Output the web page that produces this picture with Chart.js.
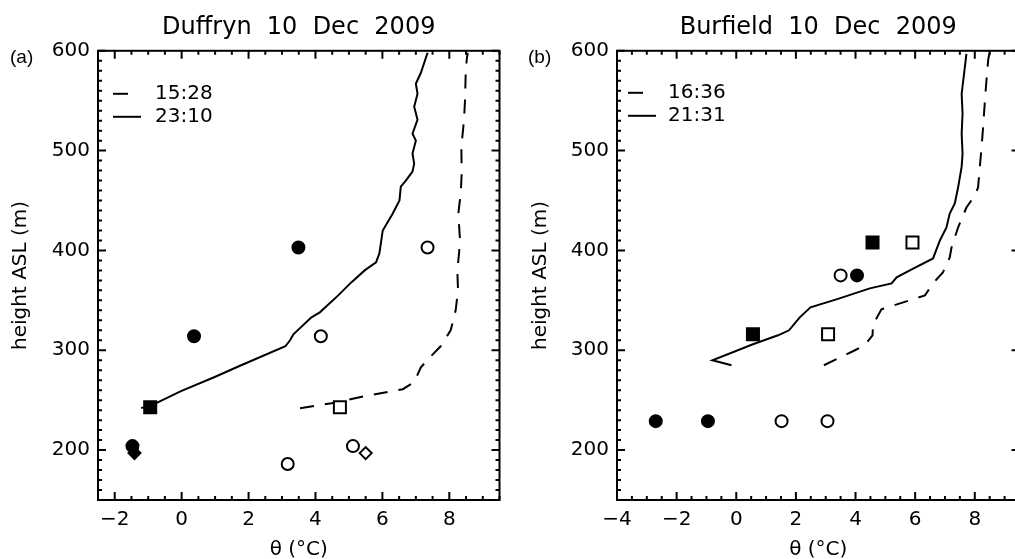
<!DOCTYPE html>
<html>
<head>
<meta charset="utf-8">
<title>Potential temperature profiles</title>
<script src="https://cdn.jsdelivr.net/npm/chart.js@4.4.0/dist/chart.umd.min.js"></script>
<style>
    html, body { margin: 0; padding: 0; background: #fff; overflow: hidden; }
    #wrap { position: relative; width: 1015px; height: 559px; overflow: hidden; }
    canvas { position: absolute; top: 0; }
    #panelA { left: 0; }
    #panelB { left: 505px; }
</style>
</head>
<body>
<div id="wrap">
    <canvas id="panelA" width="510" height="559"></canvas>
    <canvas id="panelB" width="525" height="559"></canvas>
</div>
<script>
// ---- tick labels ----
const xTicksA = [-2, 0, 2, 4, 6, 8];
const xTicksB = [-4, -2, 0, 2, 4, 6, 8];
const yTicks = [200, 300, 400, 500, 600];

// ---- (a) Duffryn: profile 15:28 (dashed) ----
const aEarlyTheta  = [3.54, 4.48, 5.47, 6.61, 6.95, 7.15, 7.45, 7.74, 8.04, 8.19, 8.26, 8.24, 8.29, 8.32, 8.27, 8.34, 8.37, 8.36, 8.44, 8.47, 8.49, 8.52, 8.55];
const aEarlyHeight = [242, 247, 254, 261, 268, 283, 294, 304, 320, 340, 360, 380, 397, 410, 437, 457, 477, 504, 531, 551, 578, 591, 598];

// ---- (a) Duffryn: profile 23:10 (solid) ----
const aLateTheta  = [-1.21, -0.76, -0.02, 0.97, 1.71, 3.10, 3.24, 3.34, 3.88, 4.13, 4.68, 5.07, 5.47, 5.81, 5.91, 6.01, 6.31, 6.51, 6.55, 6.70, 6.90, 6.95, 6.90, 7.00, 6.90, 7.05, 6.95, 7.05, 7.00, 7.15, 7.35];
const aLateHeight = [242, 247, 259, 273, 284, 304, 310, 316, 333, 338, 355, 368, 380, 388, 397, 420, 437, 450, 464, 470, 479, 487, 497, 510, 517, 531, 544, 557, 567, 578, 598];

// ---- (a) station markers ----
const aFilledCircles = [[3.49, 403], [0.37, 314], [-1.47, 204]];
const aOpenCircles   = [[7.35, 403], [4.16, 314], [5.12, 204], [3.17, 186]];
const aFilledSquares = [[-0.94, 243]];
const aOpenSquares   = [[4.73, 243]];
const aFilledDiamonds = [[-1.41, 197]];
const aOpenDiamonds   = [[5.50, 197]];

// ---- (b) Burfield: profile 16:36 (dashed) ----
const bEarlyTheta  = [2.94, 3.98, 4.31, 4.57, 4.59, 4.87, 6.33, 6.60, 6.93, 7.16, 7.22, 7.44, 7.72, 8.00, 8.11, 8.17, 8.23, 8.28, 8.34, 8.39, 8.45, 8.51];
const bEarlyHeight = [285, 300, 305, 315, 326, 341, 355, 367, 378, 393, 403, 423, 443, 455, 463, 484, 504, 524, 550, 570, 591, 600];

// ---- (b) Burfield: profile 21:31 (solid) ----
const bLateTheta  = [-0.16, -0.80, 0.56, 1.40, 1.77, 2.13, 2.49, 3.36, 4.48, 5.21, 5.38, 5.82, 6.60, 6.83, 7.05, 7.16, 7.33, 7.44, 7.56, 7.59, 7.56, 7.59, 7.56, 7.64, 7.72];
const bLateHeight = [285, 290, 306, 315, 320, 333, 343, 351, 362, 367, 373, 380, 392, 410, 423, 437, 447, 463, 484, 497, 517, 537, 557, 577, 597];

// ---- (b) station markers ----
const bFilledCircles = [[-2.70, 229], [-0.95, 229], [4.05, 375]];
const bOpenCircles   = [[1.52, 229], [3.06, 229], [3.50, 375]];
const bFilledSquares = [[0.56, 316], [4.57, 408]];
const bOpenSquares   = [[3.08, 316], [5.91, 408]];

const FONT = 'DejaVu Sans';
const DASH = [14, 11];

// Helpers to build datasets
function profile(label, theta, height, dashed) {
    return {
        label: label,
        data: theta.map((t, i) => ({ x: t, y: height[i] })),
        showLine: true,
        borderColor: '#000',
        borderWidth: 2,
        borderDash: dashed ? DASH : [],
        pointRadius: 0,
        tension: 0,
        fill: false,
        isProfile: true
    };
}

function markers(points, style, filled, radius) {
    return {
        data: points.map(p => ({ x: p[0], y: p[1] })),
        pointStyle: style,
        pointRadius: radius,
        backgroundColor: filled ? '#000' : '#fff',
        borderColor: '#000',
        borderWidth: 2,
        showLine: false
    };
}

const minusLabel = v => (v < 0 ? '\u2212' + Math.abs(v) : String(v));

// Box with inward major/minor ticks on all four sides
const frameTicks = {
    id: 'frameTicks',
    afterDatasetsDraw(chart, args, opts) {
        const { ctx, chartArea: a, scales: { x, y } } = chart;
        ctx.save();
        ctx.strokeStyle = '#000';
        ctx.lineWidth = 2;
        ctx.beginPath();
        for (let v = x.min; v <= x.max + 1e-6; v += opts.xMinor) {
            const px = x.getPixelForValue(v);
            const major = Math.abs(v / opts.xMajor - Math.round(v / opts.xMajor)) < 1e-6;
            const len = major ? 8 : 4;
            ctx.moveTo(px, a.bottom); ctx.lineTo(px, a.bottom - len);
            ctx.moveTo(px, a.top); ctx.lineTo(px, a.top + len);
        }
        for (let v = y.min; v <= y.max + 1e-6; v += opts.yMinor) {
            const py = y.getPixelForValue(v);
            const major = Math.abs(v / opts.yMajor - Math.round(v / opts.yMajor)) < 1e-6;
            const len = major ? 8 : 4;
            ctx.moveTo(a.left, py); ctx.lineTo(a.left + len, py);
            ctx.moveTo(a.right, py); ctx.lineTo(a.right - len, py);
        }
        ctx.stroke();
        ctx.strokeRect(a.left, a.top, a.right - a.left, a.bottom - a.top);
        ctx.restore();
    }
};

// Line-style key inside the plot, top left
const lineKey = {
    id: 'lineKey',
    afterDatasetsDraw(chart, args, opts) {
        const { ctx, chartArea: a } = chart;
        const sets = chart.data.datasets.filter(d => d.isProfile);
        ctx.save();
        ctx.font = '20px "' + FONT + '"';
        ctx.fillStyle = '#000';
        ctx.strokeStyle = '#000';
        ctx.lineWidth = 2;
        ctx.textBaseline = 'middle';
        sets.forEach((d, i) => {
            const yy = a.top + opts.top + i * 23;
            const x0 = a.left + opts.sample;
            const len = d.borderDash.length ? 15 : 28;
            ctx.beginPath();
            ctx.moveTo(x0, yy);
            ctx.lineTo(x0 + len, yy);
            ctx.stroke();
            ctx.fillText(d.label, a.left + opts.text, yy);
        });
        ctx.restore();
    }
};

// Panel letter in the top left corner
const panelTag = {
    id: 'panelTag',
    afterDraw(chart, args, opts) {
        const ctx = chart.ctx;
        ctx.save();
        ctx.font = '19px "Liberation Sans"';
        ctx.fillStyle = '#000';
        ctx.textBaseline = 'top';
        ctx.fillText(opts.text, opts.x, opts.y);
        ctx.restore();
    }
};

function makePanel(id, cfg) {
    return new Chart(document.getElementById(id), {
        type: 'scatter',
        data: { datasets: cfg.datasets },
        options: {
            responsive: false,
            animation: false,
            events: [],
            layout: { padding: { right: cfg.padRight, left: 0, top: 0, bottom: 0 } },
            plugins: {
                legend: { display: false },
                tooltip: { enabled: false },
                title: {
                    display: true,
                    text: cfg.title,
                    fullSize: false,
                    color: '#000',
                    font: { family: FONT, size: 24, weight: 'normal', lineHeight: 1.2 },
                    padding: { top: 13, bottom: 9 }
                },
                frameTicks: { xMinor: 0.5, xMajor: 2, yMinor: 10, yMajor: 100 },
                lineKey: cfg.key,
                panelTag: cfg.tag
            },
            scales: {
                x: {
                    type: 'linear',
                    min: cfg.xMin,
                    max: cfg.xMax,
                    afterBuildTicks: s => { s.ticks = cfg.xTicks.map(v => ({ value: v })); },
                    afterFit: s => { s.height = 59; },
                    grid: { display: false, drawTicks: false },
                    border: { display: false },
                    ticks: {
                        color: '#000',
                        padding: 8,
                        maxRotation: 0,
                        font: { family: FONT, size: 20 },
                        callback: v => minusLabel(v)
                    },
                    title: {
                        display: true,
                        text: 'θ (°C)',
                        color: '#000',
                        font: { family: FONT, size: 20, lineHeight: 0.9 },
                        padding: { top: 0, bottom: 0 }
                    }
                },
                y: {
                    type: 'linear',
                    min: 150,
                    max: 600,
                    afterBuildTicks: s => { s.ticks = yTicks.map(v => ({ value: v })); },
                    afterFit: s => { s.width = cfg.yWidth; },
                    grid: { display: false, drawTicks: false },
                    border: { display: false },
                    ticks: {
                        color: '#000',
                        padding: 8,
                        font: { family: FONT, size: 20 }
                    },
                    title: {
                        display: true,
                        text: 'height ASL (m)',
                        color: '#000',
                        font: { family: FONT, size: 20, lineHeight: 1.2 },
                        padding: { top: cfg.yTitlePad, bottom: 0 }
                    }
                }
            }
        },
        plugins: [frameTicks, lineKey, panelTag]
    });
}

// Panel (a): Duffryn
makePanel('panelA', {
    title: 'Duffryn  10  Dec  2009',
    xMin: -2.5, xMax: 9.5, xTicks: xTicksA,
    yWidth: 98, yTitlePad: 9, padRight: 7,
    key: { top: 43, sample: 15, text: 57 },
    tag: { text: '(a)', x: 10, y: 48 },
    datasets: [
        markers(aFilledCircles, 'circle', true, 6),
        markers(aOpenCircles, 'circle', false, 6),
        markers(aFilledSquares, 'rect', true, 8.5),
        markers(aOpenSquares, 'rect', false, 8.5),
        markers(aFilledDiamonds, 'rectRot', true, 6),
        markers(aOpenDiamonds, 'rectRot', false, 6),
        profile('15:28', aEarlyTheta, aEarlyHeight, true),
        profile('23:10', aLateTheta, aLateHeight, false)
    ]
});

// Panel (b): Burfield
makePanel('panelB', {
    title: 'Burfield  10  Dec  2009',
    xMin: -4, xMax: 9.5, xTicks: xTicksB,
    yWidth: 112, yTitlePad: 24, padRight: 10,
    key: { top: 42, sample: 11, text: 51 },
    tag: { text: '(b)', x: 23, y: 48 },
    datasets: [
        markers(bFilledCircles, 'circle', true, 6),
        markers(bOpenCircles, 'circle', false, 6),
        markers(bFilledSquares, 'rect', true, 8.5),
        markers(bOpenSquares, 'rect', false, 8.5),
        profile('16:36', bEarlyTheta, bEarlyHeight, true),
        profile('21:31', bLateTheta, bLateHeight, false)
    ]
});
</script>
</body>
</html>
